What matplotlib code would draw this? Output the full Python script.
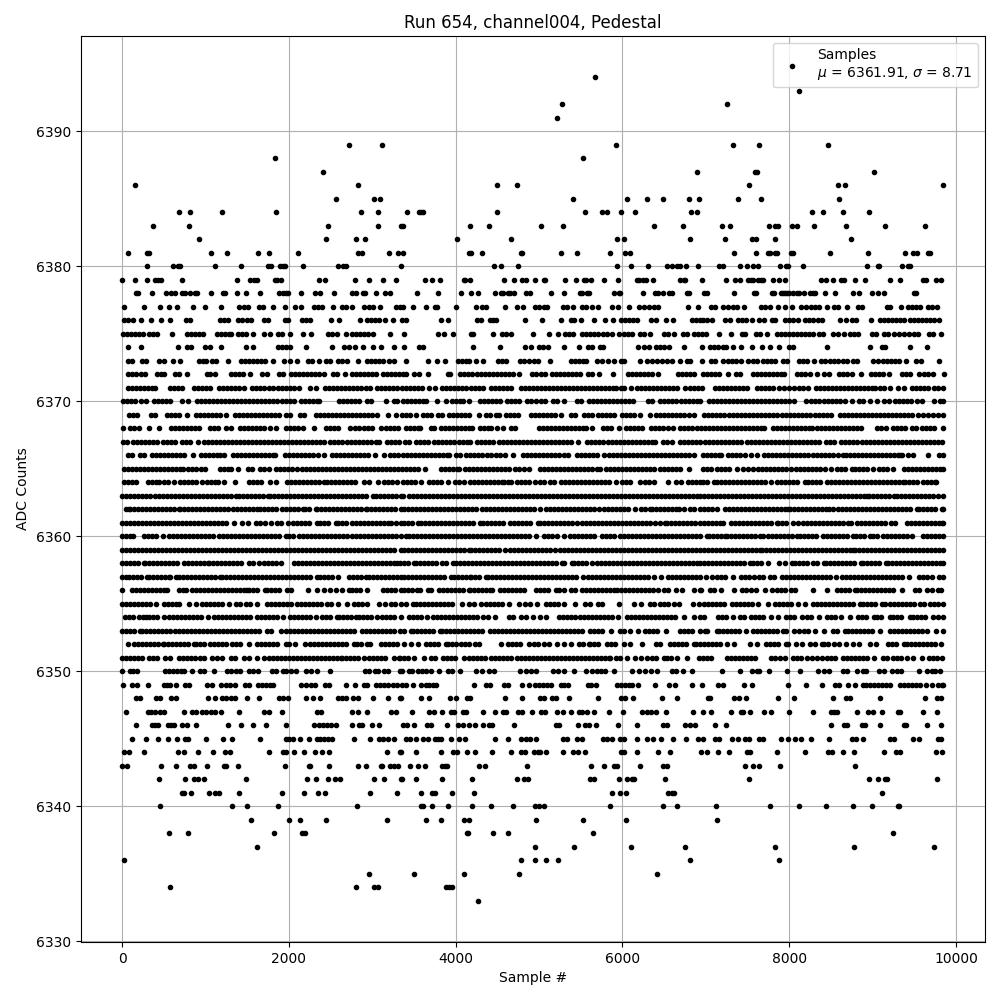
import matplotlib
matplotlib.use("Agg")
import matplotlib.pyplot as plt

# sample numbers, one list per ADC level
adc_6394 = [5668]
adc_6393 = [8120]
adc_6392 = [5272, 7256]
adc_6391 = [5212]
adc_6389 = [2720, 3116, 5920, 7328, 7640, 8468]
adc_6388 = [1832, 5524]
adc_6387 = [2408, 6892, 7592, 7616, 9020]
adc_6386 = [152, 2828, 4492, 4732, 7520, 8588, 8672, 9848]
adc_6385 = [2564, 3020, 3092, 5404, 6052, 6292, 6484, 6796, 6920, 7388, 7664, 8600]
adc_6384 = [680, 812, 1196, 1844, 2864, 3068, 3412, 3556, 3580, 3604, 4492, 5548, 5752, 5812, 5980, 6148, 6820, 6892,
            8276, 8408, 8648, 8960]
adc_6383 = [368, 800, 2468, 3068, 3340, 3364, 4168, 4396, 5020, 5284, 6376, 6724, 7196, 7292, 7760, 7832, 7868, 8036,
            8096, 8300, 8684, 9152, 9632]
adc_6382 = [920, 2444, 2804, 2912, 4012, 4660, 5932, 6016, 6808, 7232, 7556, 7604, 7832, 8744]
adc_6381 = [68, 296, 328, 1064, 1256, 1628, 1760, 2108, 2828, 2876, 3200, 3308, 3364, 4156, 4180, 4312, 4780, 4792,
            5260, 5456, 5848, 6028, 6088, 7340, 7604, 7748, 7772, 7832, 7856, 8024, 8048, 8492, 8948, 9392, 9488, 9536,
            9668, 9692]
adc_6380 = [296, 608, 668, 692, 1112, 1424, 1748, 1784, 1892, 1928, 1952, 2168, 2588, 2648, 2680, 3340, 4456, 4540,
            4744, 5932, 6104, 6304, 6532, 6592, 6652, 6688, 6760, 6904, 7160, 7208, 7412, 7496, 7568, 7628, 7892, 7964,
            7988, 8168, 8936, 9068, 9080, 9356, 9428, 9452]
adc_6379 = [0, 156, 296, 392, 428, 464, 716, 1376, 1532, 1580, 1620, 1832, 1856, 1904, 2360, 2432, 2792, 2960, 3128,
            3284, 3628, 3716, 3812, 4096, 4108, 4168, 4580, 4700, 4792, 4840, 4948, 5056, 5072, 5308, 5440, 5536, 5560,
            5620, 5776, 5944, 6176, 6200, 6248, 6284, 6364, 6688, 6736, 6748, 6956, 7244, 7352, 7412, 7508, 7544, 7568,
            7628, 7664, 7688, 7808, 7880, 7952, 8384, 8444, 8528, 8624, 8660, 8792, 8912, 9212, 9332, 9608, 9644, 9764,
            9824]
adc_6378 = [172, 192, 356, 524, 584, 632, 716, 752, 812, 872, 896, 1064, 1208, 1236, 1376, 1484, 1652, 1880, 1928, 1964,
            1988, 2144, 2312, 2372, 2540, 2756, 2804, 2888, 2912, 3044, 3152, 3212, 3532, 3784, 4060, 4180, 4264, 4468,
            4540, 4564, 4628, 4652, 4700, 4840, 4892, 5140, 5296, 5488, 5512, 5572, 5596, 5896, 5960, 5972, 6244, 6388,
            6424, 6484, 6556, 6592, 6772, 6796, 6980, 7016, 7340, 7580, 7604, 7796, 7820, 7904, 7928, 7952, 7976, 8000,
            8048, 8096, 8120, 8180, 8252, 8288, 8312, 8432, 8552, 8768, 8840, 8996, 9068, 9140, 9500, 9524]
adc_6377 = [24, 260, 452, 560, 656, 848, 992, 1184, 1400, 1460, 1508, 1640, 1688, 1808, 1952, 2072, 2144, 2300, 2348,
            2396, 2528, 2636, 2684, 2756, 2900, 2960, 3008, 3092, 3284, 3332, 3364, 3484, 3640, 3748, 3772, 4000, 4240,
            4312, 4360, 4588, 4732, 4804, 4948, 4996, 5056, 5092, 5284, 5332, 5404, 5512, 5560, 5632, 5704, 5872, 5944,
            6076, 6196, 6256, 6316, 6376, 6424, 6784, 6904, 7060, 7110, 7208, 7268, 7328, 7376, 7460, 7664, 7712, 7772,
            7868, 7952, 8036, 8144, 8204, 8264, 8312, 8360, 8456, 8540, 8588, 8696, 8828, 8876, 9176, 9212, 9344, 9428,
            9476, 9524, 9572, 9668, 9716, 9776]
adc_6376 = [20, 68, 128, 224, 344, 464, 572, 764, 812, 1172, 1220, 1268, 1388, 1436, 1496, 1544, 1700, 1748, 1952, 1988,
            2156, 2204, 2252, 2504, 2600, 2852, 2936, 2984, 3032, 3080, 3152, 3248, 3356, 3400, 3820, 3904, 4252, 4300,
            4408, 4444, 4480, 4828, 5032, 5260, 5380, 5416, 5500, 5656, 5788, 5884, 5980, 6028, 6076, 6124, 6172, 6340,
            6400, 6520, 6604, 6832, 6880, 6928, 6968, 7016, 7076, 7232, 7292, 7388, 7436, 7484, 7556, 7640, 7700, 7796,
            7832, 7952, 8000, 8048, 8108, 8192, 8240, 8288, 8348, 8396, 8612, 8684, 8756, 8804, 8984, 9092, 9140, 9188,
            9236, 9284, 9332, 9380, 9452, 9500, 9548, 9596, 9644, 9692, 9740, 9800]
adc_6375 = [8, 56, 104, 152, 200, 250, 320, 368, 416, 604, 776, 824, 872, 920, 968, 1136, 1184, 1232, 1280, 1304, 1388,
            1436, 1484, 1568, 1700, 1772, 1868, 1916, 2012, 2168, 2264, 2468, 2516, 2576, 2684, 2756, 2804, 2852, 2900,
            2948, 3008, 3212, 3376, 3784, 3856, 3964, 4180, 4204, 4444, 4552, 4600, 4660, 4924, 5116, 5224, 5308, 5356,
            5404, 5512, 5560, 5608, 5656, 5704, 5764, 5812, 5872, 5956, 6016, 6064, 6112, 6208, 6256, 6328, 6496, 6544,
            6616, 6724, 6772, 6856, 6904, 6956, 7004, 7160, 7304, 7436, 7472, 7604, 7652, 7736, 7856, 7904, 7952, 8000,
            8048, 8096, 8144, 8192, 8240, 8288, 8360, 8408, 8528, 8588, 8660, 8732, 8780, 8828, 8996, 9044, 9140, 9188,
            9260, 9320, 9380, 9440, 9500, 9548, 9680, 9728, 9824]
adc_6374 = [68, 224, 668, 776, 824, 992, 1052, 1184, 1484, 1568, 1868, 1916, 1964, 2012, 2204, 2516, 2660, 2720, 2792,
            2888, 3008, 3104, 3260, 3376, 3556, 3604, 4204, 4528, 4828, 4900, 4996, 5044, 5104, 5296, 5476, 5584, 5632,
            5728, 5764, 6184, 6256, 6316, 6400, 6448, 6496, 6556, 6736, 6956, 7052, 7100, 7148, 7208, 7244, 7328, 7424,
            7556, 7676, 7772, 7880, 8000, 8048, 8456, 8972, 9116, 9152, 9452, 9656]
adc_6373 = [68, 116, 236, 284, 440, 500, 608, 692, 920, 968, 1004, 1076, 1124, 1268, 1424, 1472, 1520, 1568, 1616, 1664,
            1712, 1808, 1940, 2012, 2096, 2228, 2276, 2360, 2444, 2492, 2588, 2636, 2696, 2828, 2936, 2984, 3032, 3080,
            3128, 3200, 3260, 3400, 3664, 3772, 3868, 4024, 4072, 4120, 4156, 4240, 4324, 4504, 4552, 4600, 4768, 4816,
            4876, 4936, 4984, 5128, 5380, 5428, 5476, 5524, 5560, 5692, 5752, 5824, 5896, 5980, 6016, 6208, 6292, 6352,
            6412, 6472, 6532, 6592, 6688, 6772, 6808, 6956, 7064, 7112, 7208, 7268, 7316, 7364, 7424, 7508, 7568, 7616,
            7688, 7736, 7784, 7832, 7928, 7976, 8120, 8168, 8216, 8300, 8384, 8432, 8492, 8540, 8588, 8648, 8696, 8768,
            8816, 9008, 9068, 9128, 9176, 9224, 9272, 9320, 9404, 9524, 9584, 9800]
adc_6372 = [68, 116, 164, 224, 272, 416, 464, 500, 632, 680, 776, 1016, 1052, 1112, 1304, 1352, 1400, 1448, 1532, 1676,
            1736, 1880, 1928, 2024, 2072, 2120, 2168, 2216, 2264, 2312, 2360, 2420, 2528, 2576, 2672, 2756, 2804, 2852,
            2900, 2948, 2996, 3044, 3128, 3176, 3224, 3272, 3320, 3364, 3400, 3496, 3556, 3664, 3904, 3928, 4048, 4096,
            4144, 4192, 4252, 4300, 4348, 4396, 4444, 4492, 4540, 4588, 4636, 4684, 4756, 4912, 4960, 5020, 5068, 5152,
            5200, 5248, 5296, 5344, 5392, 5440, 5488, 5584, 5632, 5716, 5884, 6064, 6112, 6160, 6208, 6256, 6304, 6352,
            6428, 6664, 6712, 6760, 6808, 6856, 6968, 7016, 7064, 7112, 7160, 7268, 7364, 7412, 7568, 7616, 7664, 7712,
            7760, 7808, 7856, 7904, 7940, 8096, 8144, 8192, 8252, 8336, 8420, 8480, 8600, 8648, 8696, 8756, 8864, 8984,
            9032, 9080, 9128, 9200, 9356, 9404, 9452, 9560, 9620, 9668, 9728, 9855]
adc_6371 = [68, 116, 164, 212, 260, 308, 356, 392, 572, 620, 668, 716, 860, 908, 956, 1004, 1052, 1160, 1208, 1256, 1304,
            1352, 1400, 1460, 1556, 1604, 1652, 1700, 1760, 1808, 1868, 1916, 1964, 2012, 2060, 2120, 2252, 2324, 2432,
            2480, 2528, 2576, 2624, 2672, 2720, 2768, 2816, 2864, 2924, 2972, 3056, 3104, 3152, 3200, 3248, 3296, 3352,
            3400, 3448, 3496, 3544, 3592, 3676, 3748, 3832, 3880, 3928, 3976, 4024, 4072, 4120, 4180, 4228, 4276, 4324,
            4420, 4468, 4516, 4564, 4612, 4660, 4780, 4828, 4876, 4924, 4972, 5020, 5068, 5116, 5164, 5212, 5260, 5308,
            5356, 5404, 5452, 5500, 5548, 5596, 5644, 5692, 5740, 5788, 5836, 5884, 5920, 5980, 6016, 6100, 6172, 6220,
            6268, 6316, 6364, 6412, 6460, 6508, 6556, 6604, 6652, 6748, 6808, 6856, 6904, 6956, 7112, 7160, 7208, 7256,
            7304, 7352, 7400, 7448, 7496, 7616, 7664, 7712, 7760, 7808, 7880, 7940, 8000, 8060, 8120, 8168, 8228, 8324,
            8372, 8420, 8468, 8516, 8564, 8612, 8660, 8708, 8756, 8804, 8852, 8900, 8948, 8996, 9032, 9092, 9140, 9212,
            9308, 9380, 9476, 9524, 9572, 9620, 9668, 9740, 9788, 9848]
adc_6370 = [8, 56, 104, 152, 224, 284, 380, 428, 476, 524, 572, 716, 788, 896, 944, 992, 1040, 1088, 1136, 1184, 1232,
            1280, 1328, 1376, 1424, 1472, 1520, 1568, 1616, 1664, 1712, 1760, 1808, 1856, 1916, 1964, 2012, 2060, 2144,
            2192, 2240, 2288, 2336, 2360, 2600, 2648, 2696, 2744, 2792, 2840, 2936, 2984, 3164, 3260, 3296, 3364, 3412,
            3460, 3508, 3556, 3604, 3640, 3772, 3880, 3952, 4000, 4048, 4084, 4156, 4288, 4336, 4384, 4432, 4480, 4528,
            4612, 4660, 4708, 4756, 4852, 4900, 4960, 5020, 5068, 5164, 5212, 5296, 5452, 5500, 5596, 5644, 5692, 5740,
            5788, 5836, 5884, 5932, 5980, 6028, 6076, 6124, 6304, 6352, 6448, 6496, 6544, 6592, 6640, 6700, 6748, 6796,
            6844, 6892, 6928, 7040, 7088, 7136, 7184, 7232, 7280, 7328, 7376, 7424, 7472, 7520, 7568, 7616, 7664, 7712,
            7760, 7808, 7856, 7904, 7952, 8000, 8060, 8204, 8264, 8312, 8360, 8420, 8468, 8516, 8564, 8612, 8672, 8756,
            8840, 8888, 8972, 9056, 9140, 9200, 9272, 9320, 9368, 9416, 9464, 9536, 9596, 9740, 9812, 9848]
adc_6369 = [80, 128, 176, 344, 392, 536, 584, 632, 680, 776, 884, 932, 980, 1028, 1076, 1124, 1172, 1252, 1352, 1400,
            1448, 1496, 1544, 1592, 1640, 1688, 1736, 1784, 1832, 1880, 1964, 2012, 2132, 2180, 2324, 2372, 2420, 2468,
            2516, 2564, 2612, 2660, 2708, 2756, 2804, 2852, 2900, 2948, 2996, 3056, 3188, 3284, 3352, 3400, 3448, 3520,
            3604, 3652, 3700, 3784, 3832, 3916, 3964, 4012, 4060, 4108, 4156, 4276, 4360, 4408, 4480, 4516, 4600, 4648,
            4696, 4744, 4900, 4948, 4996, 5044, 5092, 5140, 5188, 5260, 5380, 5428, 5536, 5584, 5632, 5704, 5752, 5800,
            5848, 5896, 5992, 6040, 6088, 6136, 6208, 6328, 6400, 6448, 6496, 6544, 6592, 6640, 6688, 6736, 6796, 6856,
            6980, 7028, 7076, 7124, 7172, 7220, 7280, 7328, 7376, 7424, 7472, 7520, 7568, 7616, 7664, 7712, 7760, 7808,
            7856, 7916, 7964, 8012, 8060, 8108, 8156, 8204, 8252, 8312, 8360, 8408, 8456, 8504, 8612, 8660, 8708, 8756,
            8804, 8852, 8900, 8948, 8996, 9044, 9092, 9140, 9188, 9236, 9284, 9332, 9380, 9428, 9476, 9548, 9608, 9668,
            9728, 9788, 9848]
adc_6368 = [8, 92, 140, 200, 320, 440, 584, 632, 680, 728, 776, 824, 872, 920, 1052, 1100, 1148, 1244, 1304, 1412, 1460,
            1508, 1556, 1604, 1652, 1700, 1772, 1844, 1964, 2012, 2060, 2108, 2168, 2300, 2444, 2492, 2540, 2588, 2732,
            2792, 2840, 2900, 2948, 2996, 3104, 3164, 3212, 3260, 3308, 3400, 3448, 3496, 3544, 3568, 3700, 3736, 3820,
            3868, 3916, 3964, 4012, 4060, 4108, 4156, 4192, 4288, 4336, 4384, 4420, 4492, 4564, 4660, 4708, 4996, 5044,
            5092, 5140, 5188, 5236, 5284, 5332, 5380, 5428, 5476, 5524, 5560, 5632, 5764, 5812, 5860, 5956, 6040, 6088,
            6136, 6184, 6232, 6340, 6388, 6436, 6484, 6544, 6604, 6688, 6736, 6784, 6832, 6892, 6944, 6992, 7040, 7088,
            7136, 7184, 7232, 7280, 7328, 7376, 7424, 7472, 7520, 7568, 7616, 7664, 7700, 7808, 7856, 7904, 7952, 8000,
            8048, 8096, 8144, 8192, 8240, 8276, 8336, 8384, 8432, 8480, 8528, 8576, 8624, 8672, 8720, 8768, 8816, 8864,
            9056, 9104, 9164, 9248, 9296, 9344, 9392, 9476, 9524, 9596, 9644, 9692, 9740, 9848]
adc_6367 = [8, 56, 128, 176, 224, 272, 320, 368, 416, 488, 536, 584, 632, 716, 764, 812, 908, 980, 1028, 1076, 1124,
            1172, 1220, 1268, 1316, 1364, 1412, 1460, 1508, 1556, 1604, 1652, 1700, 1748, 1796, 1844, 1892, 1940, 1988,
            2036, 2084, 2132, 2180, 2228, 2276, 2324, 2372, 2420, 2492, 2540, 2588, 2636, 2696, 2744, 2792, 2840, 2888,
            2936, 2984, 3044, 3080, 3176, 3224, 3272, 3320, 3388, 3436, 3520, 3568, 3616, 3664, 3736, 3784, 3832, 3880,
            3928, 3976, 4036, 4084, 4132, 4168, 4252, 4300, 4348, 4396, 4444, 4516, 4564, 4612, 4660, 4708, 4756, 4804,
            4852, 4900, 4948, 4996, 5044, 5092, 5140, 5188, 5236, 5284, 5332, 5380, 5464, 5572, 5620, 5668, 5716, 5764,
            5824, 5872, 5920, 5968, 6016, 6064, 6112, 6160, 6208, 6256, 6304, 6352, 6388, 6484, 6532, 6592, 6688, 6736,
            6784, 6832, 6880, 6928, 6992, 7040, 7088, 7136, 7184, 7232, 7280, 7328, 7376, 7424, 7496, 7544, 7592, 7640,
            7688, 7736, 7784, 7832, 7880, 7928, 7976, 8024, 8072, 8120, 8168, 8216, 8264, 8312, 8360, 8444, 8492, 8540,
            8624, 8672, 8720, 8768, 8816, 8876, 8924, 8972, 9020, 9068, 9116, 9164, 9212, 9260, 9308, 9356, 9404, 9452,
            9500, 9548, 9596, 9644, 9692, 9740, 9788, 9836]
adc_6366 = [68, 116, 212, 260, 356, 404, 452, 500, 548, 596, 644, 692, 740, 848, 944, 992, 1040, 1088, 1136, 1172, 1220,
            1328, 1376, 1424, 1472, 1520, 1568, 1616, 1664, 1712, 1760, 1808, 1832, 1952, 2000, 2048, 2096, 2144, 2192,
            2240, 2288, 2348, 2420, 2516, 2564, 2612, 2660, 2708, 2756, 2804, 2852, 2900, 2948, 3032, 3140, 3212, 3260,
            3308, 3364, 3412, 3460, 3508, 3556, 3604, 3652, 3700, 3748, 3796, 3844, 3892, 3916, 4000, 4048, 4120, 4168,
            4216, 4264, 4312, 4372, 4420, 4480, 4528, 4588, 4684, 4804, 4852, 4900, 4948, 4996, 5044, 5092, 5140, 5188,
            5236, 5296, 5344, 5452, 5500, 5548, 5596, 5644, 5692, 5776, 5836, 5884, 5932, 5980, 6028, 6076, 6124, 6172,
            6220, 6268, 6316, 6364, 6412, 6460, 6508, 6556, 6604, 6652, 6700, 6748, 6796, 6856, 6968, 7016, 7064, 7112,
            7160, 7184, 7268, 7316, 7364, 7412, 7472, 7544, 7616, 7700, 7748, 7796, 7844, 7892, 7940, 7988, 8036, 8084,
            8132, 8180, 8228, 8288, 8336, 8384, 8432, 8480, 8528, 8588, 8648, 8684, 8732, 8780, 8828, 8876, 8924, 8972,
            9020, 9068, 9116, 9164, 9212, 9260, 9308, 9328, 9356, 9428, 9488, 9664, 9800, 9848]
adc_6365 = [20, 68, 116, 164, 212, 260, 308, 356, 404, 452, 500, 548, 596, 644, 692, 728, 788, 836, 884, 944, 992, 1172,
            1220, 1268, 1304, 1388, 1508, 1556, 1652, 1700, 1760, 1844, 1892, 1940, 1988, 2036, 2096, 2156, 2204, 2252,
            2300, 2348, 2396, 2444, 2492, 2540, 2588, 2636, 2684, 2732, 2780, 2828, 2876, 2924, 2972, 3020, 3068, 3116,
            3164, 3212, 3260, 3308, 3352, 3400, 3448, 3496, 3544, 3628, 3820, 3868, 3916, 3964, 4012, 4036, 4108, 4156,
            4204, 4252, 4300, 4348, 4396, 4444, 4492, 4540, 4588, 4636, 4708, 4756, 4816, 4876, 5008, 5056, 5104, 5152,
            5200, 5248, 5296, 5344, 5392, 5440, 5488, 5536, 5584, 5632, 5692, 5736, 5800, 5848, 5896, 5944, 5992, 6040,
            6088, 6136, 6184, 6232, 6280, 6328, 6376, 6448, 6496, 6544, 6592, 6640, 6688, 6796, 6968, 7016, 7064, 7136,
            7184, 7232, 7280, 7376, 7448, 7508, 7568, 7628, 7676, 7724, 7772, 7820, 7868, 7916, 7964, 8016, 8084, 8132,
            8180, 8228, 8276, 8324, 8372, 8432, 8500, 8568, 8624, 8672, 8756, 8792, 8840, 8888, 8936, 9008, 9080, 9128,
            9176, 9248, 9380, 9428, 9476, 9524, 9572, 9620, 9668, 9716, 9764, 9812, 9848]
adc_6364 = [20, 68, 116, 172, 308, 356, 404, 440, 500, 548, 620, 692, 740, 788, 836, 884, 956, 1016, 1064, 1112, 1148,
            1220, 1352, 1520, 1568, 1616, 1664, 1772, 1844, 1980, 2028, 2076, 2124, 2172, 2220, 2268, 2316, 2364, 2420,
            2460, 2508, 2556, 2604, 2652, 2700, 2748, 2796, 2900, 2960, 3068, 3140, 3188, 3236, 3300, 3364, 3412, 3460,
            3508, 3580, 3676, 3724, 3772, 3820, 3904, 3988, 4036, 4096, 4168, 4216, 4264, 4312, 4360, 4408, 4456, 4504,
            4552, 4576, 4624, 4660, 4732, 4780, 4828, 4876, 4948, 5008, 5056, 5128, 5176, 5260, 5308, 5356, 5404, 5452,
            5500, 5548, 5596, 5644, 5692, 5740, 5788, 5836, 5920, 5992, 6040, 6088, 6208, 6268, 6316, 6376, 6544, 6640,
            6700, 6784, 6832, 6880, 6928, 6968, 7016, 7100, 7136, 7184, 7232, 7280, 7328, 7376, 7424, 7472, 7520, 7568,
            7616, 7664, 7712, 7784, 7856, 7904, 7952, 8000, 8048, 8096, 8192, 8228, 8276, 8324, 8372, 8456, 8504, 8552,
            8600, 8648, 8696, 8744, 8792, 8840, 8888, 8936, 8984, 9032, 9080, 9128, 9176, 9224, 9272, 9320, 9360, 9392,
            9440, 9488, 9536, 9608, 9648, 9696, 9744, 9764]
adc_6363 = [0, 48, 96, 144, 192, 240, 288, 336, 392, 440, 488, 536, 584, 632, 680, 728, 776, 824, 872, 920, 968, 1016,
            1064, 1112, 1160, 1208, 1256, 1304, 1368, 1404, 1452, 1500, 1548, 1596, 1644, 1692, 1752, 1776, 1824, 1872,
            1920, 1968, 2016, 2064, 2112, 2160, 2208, 2256, 2304, 2352, 2400, 2448, 2496, 2544, 2592, 2640, 2688, 2736,
            2780, 2824, 2872, 2920, 3012, 3040, 3088, 3136, 3184, 3232, 3280, 3340, 3364, 3436, 3484, 3532, 3580, 3628,
            3676, 3724, 3772, 3820, 3868, 3916, 3964, 4012, 4060, 4108, 4156, 4204, 4252, 4300, 4348, 4396, 4444, 4492,
            4540, 4588, 4636, 4684, 4732, 4780, 4828, 4876, 4924, 4972, 5020, 5068, 5116, 5164, 5212, 5260, 5308, 5356,
            5404, 5452, 5500, 5548, 5596, 5644, 5692, 5740, 5788, 5836, 5884, 5932, 5980, 6028, 6076, 6124, 6172, 6220,
            6268, 6316, 6364, 6412, 6460, 6508, 6556, 6604, 6652, 6700, 6748, 6796, 6844, 6892, 6928, 6976, 7024, 7072,
            7120, 7168, 7216, 7264, 7312, 7360, 7408, 7456, 7504, 7552, 7600, 7648, 7696, 7744, 7792, 7840, 7888, 7936,
            7984, 8032, 8080, 8128, 8176, 8224, 8272, 8320, 8368, 8416, 8464, 8512, 8560, 8608, 8656, 8704, 8752, 8800,
            8848, 8896, 8928, 8960, 9008, 9056, 9104, 9152, 9200, 9256, 9288, 9336, 9384, 9432, 9480, 9528, 9576, 9624,
            9672, 9720, 9788, 9848]
adc_6362 = [52, 80, 100, 148, 196, 244, 292, 340, 380, 428, 476, 524, 572, 620, 688, 700, 748, 796, 844, 892, 940, 988,
            1036, 1084, 1132, 1180, 1228, 1276, 1324, 1372, 1420, 1468, 1516, 1564, 1620, 1652, 1700, 1748, 1796, 1844,
            1916, 1964, 2012, 2060, 2108, 2164, 2188, 2236, 2320, 2332, 2380, 2428, 2476, 2524, 2572, 2620, 2668, 2716,
            2764, 2812, 2860, 2920, 2940, 2988, 3036, 3084, 3132, 3180, 3228, 3276, 3340, 3384, 3432, 3480, 3528, 3576,
            3624, 3672, 3720, 3768, 3816, 3864, 3912, 3960, 4000, 4048, 4096, 4144, 4192, 4248, 4316, 4364, 4412, 4460,
            4508, 4556, 4604, 4652, 4700, 4748, 4796, 4844, 4892, 4940, 5016, 5080, 5128, 5176, 5224, 5272, 5320, 5368,
            5416, 5464, 5512, 5560, 5608, 5656, 5716, 5776, 5824, 5872, 5920, 5968, 6016, 6064, 6148, 6224, 6272, 6328,
            6356, 6404, 6452, 6500, 6548, 6596, 6644, 6676, 6736, 6816, 6864, 6928, 6976, 7024, 7072, 7136, 7232, 7280,
            7328, 7376, 7424, 7472, 7520, 7568, 7616, 7664, 7712, 7760, 7808, 7856, 7904, 7952, 7988, 8008, 8056, 8104,
            8152, 8200, 8248, 8296, 8344, 8392, 8440, 8480, 8528, 8588, 8636, 8684, 8732, 8780, 8828, 8876, 8924, 8972,
            9020, 9068, 9116, 9164, 9212, 9260, 9308, 9356, 9404, 9452, 9528, 9560, 9608, 9656, 9704, 9752, 9828, 9848]
adc_6361 = [0, 48, 96, 144, 192, 240, 288, 336, 384, 432, 480, 528, 576, 624, 672, 720, 768, 816, 864, 912, 960, 1008,
            1056, 1104, 1152, 1200, 1252, 1340, 1440, 1508, 1600, 1656, 1716, 1788, 1860, 1908, 1988, 2052, 2100, 2148,
            2196, 2244, 2340, 2372, 2420, 2468, 2560, 2588, 2636, 2684, 2760, 2800, 2848, 2896, 2944, 2992, 3040, 3088,
            3136, 3184, 3220, 3280, 3340, 3384, 3432, 3480, 3544, 3584, 3632, 3680, 3728, 3776, 3824, 3872, 3920, 3968,
            4016, 4064, 4112, 4160, 4208, 4296, 4324, 4372, 4420, 4468, 4516, 4564, 4656, 4696, 4744, 4792, 4840, 4888,
            4984, 5016, 5064, 5112, 5160, 5208, 5256, 5304, 5352, 5400, 5456, 5516, 5564, 5612, 5660, 5708, 5756, 5804,
            5852, 5900, 5948, 5996, 6044, 6096, 6136, 6184, 6232, 6280, 6328, 6396, 6456, 6516, 6540, 6588, 6636, 6684,
            6732, 6780, 6828, 6876, 6928, 6976, 7024, 7072, 7120, 7168, 7200, 7296, 7344, 7392, 7440, 7488, 7536, 7584,
            7632, 7680, 7728, 7776, 7848, 7868, 7916, 7964, 8048, 8108, 8160, 8208, 8256, 8304, 8352, 8400, 8448, 8496,
            8544, 8592, 8640, 8708, 8744, 8808, 8856, 8904, 8952, 9000, 9048, 9096, 9144, 9216, 9268, 9408, 9456, 9504,
            9552, 9600, 9648, 9696, 9744, 9792, 9828, 9848]
adc_6360 = [0, 48, 96, 132, 260, 308, 360, 408, 488, 560, 608, 656, 704, 752, 800, 848, 896, 944, 992, 1040, 1088, 1160,
            1208, 1260, 1308, 1356, 1404, 1452, 1500, 1548, 1596, 1644, 1692, 1740, 1788, 1836, 1884, 1964, 2000, 2048,
            2124, 2168, 2220, 2268, 2316, 2364, 2412, 2460, 2508, 2556, 2604, 2652, 2700, 2760, 2800, 2848, 2896, 2944,
            2992, 3040, 3088, 3136, 3184, 3232, 3280, 3340, 3408, 3436, 3484, 3532, 3580, 3628, 3676, 3724, 3772, 3820,
            3868, 3916, 3964, 4012, 4060, 4108, 4156, 4204, 4252, 4300, 4348, 4396, 4444, 4492, 4540, 4588, 4636, 4684,
            4732, 4780, 4828, 4876, 4960, 5056, 5104, 5152, 5216, 5296, 5368, 5416, 5464, 5512, 5560, 5608, 5656, 5752,
            5800, 5848, 5896, 5976, 6016, 6064, 6112, 6160, 6208, 6256, 6304, 6352, 6400, 6448, 6496, 6544, 6592, 6640,
            6688, 6736, 6784, 6832, 6880, 6928, 7016, 7040, 7088, 7136, 7184, 7228, 7248, 7296, 7344, 7392, 7440, 7488,
            7536, 7584, 7648, 7688, 7748, 7796, 7844, 7892, 7940, 7988, 8036, 8088, 8128, 8176, 8224, 8272, 8320, 8408,
            8448, 8496, 8544, 8592, 8640, 8688, 8768, 8800, 8848, 8896, 8968, 9000, 9048, 9120, 9176, 9224, 9272, 9320,
            9368, 9416, 9468, 9608, 9656, 9704, 9752, 9800, 9848]
adc_6359 = [0, 48, 96, 144, 192, 240, 288, 336, 384, 432, 480, 528, 576, 624, 672, 720, 768, 816, 864, 912, 960, 1008,
            1056, 1104, 1152, 1200, 1248, 1296, 1344, 1392, 1440, 1488, 1536, 1584, 1632, 1680, 1728, 1776, 1824, 1872,
            1920, 1968, 2016, 2064, 2112, 2160, 2208, 2256, 2304, 2352, 2400, 2448, 2496, 2544, 2592, 2640, 2688, 2736,
            2784, 2832, 2880, 2928, 2976, 3024, 3072, 3120, 3168, 3216, 3264, 3340, 3384, 3432, 3480, 3528, 3576, 3624,
            3672, 3720, 3768, 3816, 3864, 3912, 3960, 4008, 4056, 4104, 4156, 4188, 4236, 4284, 4332, 4380, 4428, 4476,
            4524, 4596, 4648, 4696, 4744, 4792, 4840, 4888, 4936, 4984, 5032, 5080, 5128, 5196, 5248, 5296, 5344, 5392,
            5440, 5488, 5536, 5584, 5632, 5680, 5728, 5776, 5824, 5872, 5920, 5968, 6016, 6064, 6112, 6160, 6208, 6256,
            6304, 6352, 6400, 6448, 6496, 6544, 6592, 6640, 6688, 6736, 6784, 6832, 6880, 6928, 6976, 7024, 7072, 7120,
            7168, 7216, 7264, 7312, 7360, 7408, 7456, 7504, 7552, 7600, 7648, 7668, 7716, 7764, 7812, 7860, 7908, 7956,
            8004, 8052, 8100, 8148, 8196, 8244, 8292, 8340, 8388, 8436, 8484, 8532, 8580, 8628, 8676, 8724, 8768, 8788,
            8836, 8884, 8932, 8980, 9028, 9076, 9124, 9172, 9220, 9268, 9320, 9368, 9416, 9464, 9512, 9560, 9608, 9656,
            9704, 9752, 9800, 9848]
adc_6358 = [0, 48, 96, 144, 192, 260, 280, 328, 376, 424, 472, 520, 568, 616, 664, 740, 788, 836, 884, 932, 980, 1028,
            1040, 1088, 1136, 1184, 1232, 1280, 1328, 1376, 1428, 1520, 1568, 1640, 1700, 1748, 1796, 1844, 1900, 2060,
            2108, 2156, 2204, 2252, 2300, 2348, 2396, 2444, 2492, 2540, 2588, 2636, 2684, 2732, 2780, 2828, 2876, 2924,
            2972, 3020, 3068, 3116, 3164, 3212, 3260, 3300, 3336, 3384, 3432, 3504, 3524, 3572, 3620, 3668, 3716, 3764,
            3840, 3888, 3964, 4008, 4056, 4104, 4152, 4200, 4248, 4296, 4344, 4392, 4440, 4488, 4536, 4584, 4632, 4680,
            4728, 4776, 4824, 4872, 4920, 4968, 5016, 5064, 5112, 5160, 5208, 5276, 5304, 5396, 5416, 5464, 5512, 5560,
            5636, 5696, 5744, 5792, 5840, 5888, 5936, 5984, 6032, 6080, 6128, 6176, 6224, 6272, 6320, 6368, 6416, 6464,
            6512, 6560, 6608, 6656, 6704, 6752, 6800, 6848, 6896, 6936, 6976, 7024, 7072, 7120, 7168, 7216, 7264, 7312,
            7360, 7408, 7456, 7528, 7560, 7608, 7656, 7748, 7880, 7948, 8028, 8068, 8116, 8164, 8212, 8288, 8336, 8416,
            8440, 8488, 8536, 8584, 8632, 8680, 8728, 8776, 8860, 8888, 8936, 8984, 9032, 9080, 9160, 9188, 9236, 9284,
            9332, 9380, 9428, 9476, 9524, 9572, 9620, 9668, 9716, 9764, 9808, 9848]
adc_6357 = [0, 52, 80, 128, 176, 224, 300, 320, 368, 416, 464, 512, 560, 580, 652, 680, 728, 776, 824, 872, 920, 968,
            1016, 1064, 1112, 1180, 1200, 1248, 1296, 1344, 1392, 1440, 1488, 1536, 1584, 1632, 1680, 1728, 1776, 1824,
            1872, 1920, 1968, 2016, 2064, 2112, 2160, 2208, 2256, 2340, 2372, 2420, 2468, 2516, 2588, 2720, 2768, 2816,
            2864, 2920, 2960, 3008, 3056, 3104, 3152, 3200, 3248, 3296, 3340, 3384, 3432, 3480, 3528, 3576, 3624, 3672,
            3720, 3768, 3816, 3864, 3944, 3976, 4024, 4072, 4120, 4176, 4188, 4236, 4284, 4368, 4388, 4436, 4484, 4532,
            4580, 4628, 4676, 4724, 4772, 4820, 4868, 4916, 4964, 5012, 5060, 5108, 5156, 5204, 5252, 5300, 5348, 5396,
            5444, 5528, 5584, 5632, 5680, 5728, 5776, 5824, 5872, 5920, 5968, 6016, 6064, 6112, 6160, 6208, 6256, 6304,
            6376, 6468, 6544, 6592, 6640, 6688, 6736, 6784, 6832, 6880, 6928, 7004, 7080, 7128, 7176, 7224, 7320, 7416,
            7464, 7512, 7576, 7640, 7688, 7768, 7820, 7908, 7956, 8004, 8052, 8100, 8148, 8196, 8244, 8292, 8340, 8388,
            8436, 8488, 8560, 8636, 8684, 8732, 8780, 8828, 8876, 8924, 8972, 9020, 9068, 9116, 9164, 9212, 9260, 9308,
            9356, 9440, 9560, 9608, 9656, 9708, 9800, 9848]
adc_6356 = [0, 120, 168, 216, 264, 312, 360, 408, 456, 504, 540, 680, 728, 772, 840, 888, 936, 984, 1032, 1080, 1128,
            1176, 1224, 1272, 1320, 1368, 1416, 1464, 1500, 1520, 1568, 1616, 1708, 1740, 1788, 1836, 1884, 1980, 2020,
            2228, 2340, 2420, 2492, 2564, 2640, 2720, 2760, 2808, 2856, 2940, 3132, 3180, 3228, 3276, 3340, 3384, 3432,
            3480, 3536, 3576, 3664, 3704, 3796, 3844, 3892, 3940, 3988, 4036, 4084, 4156, 4176, 4224, 4272, 4320, 4368,
            4408, 4436, 4528, 4576, 4624, 4672, 4720, 4768, 4824, 4968, 5016, 5064, 5112, 5200, 5240, 5304, 5384, 5432,
            5516, 5560, 5608, 5656, 5704, 5752, 5800, 5848, 5896, 5936, 5984, 6032, 6080, 6128, 6176, 6224, 6272, 6320,
            6368, 6424, 6496, 6548, 6648, 6720, 6856, 6936, 6948, 7048, 7096, 7176, 7340, 7428, 7476, 7536, 7604, 7712,
            7796, 7856, 7904, 7952, 8016, 8068, 8280, 8456, 8568, 8616, 8664, 8712, 8788, 8816, 8864, 8912, 8960, 9008,
            9056, 9104, 9152, 9200, 9240, 9356, 9508, 9556, 9648, 9708, 9788, 9824]
adc_6355 = [0, 48, 96, 144, 192, 240, 288, 336, 412, 500, 548, 596, 652, 680, 800, 892, 960, 1008, 1056, 1104, 1152,
            1200, 1280, 1360, 1408, 1480, 1532, 1612, 1740, 1788, 1836, 1884, 1932, 1980, 2028, 2100, 2148, 2196, 2244,
            2292, 2340, 2388, 2460, 2500, 2588, 2692, 2780, 2828, 2876, 2940, 3080, 3148, 3220, 3268, 3340, 3400, 3484,
            3528, 3576, 3624, 3672, 3720, 3768, 3816, 3864, 3912, 3960, 4072, 4156, 4224, 4308, 4368, 4416, 4464, 4512,
            4560, 4636, 4756, 4836, 4896, 4972, 5088, 5136, 5184, 5232, 5304, 5428, 5548, 5616, 5704, 5756, 5956, 6136,
            6224, 6328, 6376, 6456, 6496, 6544, 6616, 6676, 6848, 6924, 6976, 7024, 7072, 7120, 7168, 7216, 7308, 7360,
            7408, 7456, 7508, 7556, 7628, 7748, 7828, 7876, 7924, 7972, 8020, 8108, 8192, 8288, 8336, 8384, 8432, 8480,
            8528, 8576, 8624, 8672, 8720, 8768, 8848, 8888, 8936, 8984, 9032, 9108, 9152, 9208, 9256, 9304, 9352, 9400,
            9448, 9496, 9568, 9620, 9688, 9736, 9784, 9848]
adc_6354 = [40, 88, 136, 200, 248, 292, 320, 368, 416, 500, 560, 608, 656, 704, 752, 800, 848, 896, 944, 1028, 1100,
            1148, 1196, 1244, 1292, 1340, 1388, 1436, 1484, 1532, 1620, 1660, 1708, 1756, 1804, 1852, 1932, 2012, 2060,
            2108, 2156, 2204, 2252, 2320, 2400, 2448, 2496, 2572, 2600, 2648, 2696, 2744, 2800, 2840, 2888, 2936, 2984,
            3060, 3120, 3168, 3216, 3264, 3340, 3436, 3484, 3532, 3580, 3656, 3724, 3772, 3820, 3868, 3916, 3964, 4012,
            4060, 4108, 4156, 4204, 4252, 4328, 4384, 4476, 4636, 4684, 4784, 4840, 4932, 5016, 5088, 5240, 5288, 5336,
            5384, 5432, 5488, 5536, 5588, 5636, 5684, 5732, 5780, 5828, 5876, 5944, 6056, 6104, 6152, 6200, 6248, 6296,
            6344, 6392, 6440, 6488, 6536, 6584, 6632, 6736, 6856, 6928, 6984, 7148, 7196, 7244, 7328, 7408, 7456, 7536,
            7588, 7636, 7684, 7776, 7868, 7960, 8008, 8056, 8148, 8208, 8256, 8360, 8448, 8496, 8544, 8616, 8728, 8828,
            8876, 8924, 9016, 9048, 9096, 9208, 9240, 9288, 9336, 9448, 9480, 9528, 9576, 9624, 9720, 9788, 9848]
adc_6353 = [0, 52, 100, 148, 220, 240, 288, 336, 384, 432, 480, 528, 576, 640, 680, 728, 776, 824, 872, 920, 968, 1016,
            1064, 1112, 1160, 1208, 1256, 1304, 1352, 1400, 1448, 1496, 1544, 1592, 1640, 1740, 1788, 1900, 1960, 2008,
            2056, 2104, 2152, 2200, 2248, 2296, 2344, 2392, 2440, 2488, 2536, 2584, 2632, 2680, 2728, 2776, 2880, 2920,
            2968, 3016, 3064, 3112, 3160, 3208, 3256, 3336, 3384, 3464, 3488, 3536, 3584, 3632, 3680, 3728, 3808,
            3836, 3884, 3932, 3980, 4028, 4076, 4124, 4172, 4220, 4268, 4316, 4416, 4464, 4512, 4560, 4608, 4656, 4704,
            4752, 4800, 4848, 4896, 4944, 4992, 5040, 5088, 5136, 5184, 5232, 5280, 5328, 5376, 5424, 5472, 5520, 5608,
            5656, 5704, 5752, 5864, 5968, 6024, 6088, 6192, 6276, 6324, 6372, 6420, 6528, 6696, 6744, 6792, 6840, 6936,
            6988, 7016, 7128, 7160, 7208, 7256, 7304, 7352, 7400, 7480, 7568, 7616, 7664, 7712, 7760, 7808, 7856, 7920,
            7960, 8056, 8120, 8176, 8228, 8308, 8416, 8520, 8568, 8664, 8708, 8756, 8804, 8852, 8900, 8948, 8996, 9088,
            9208, 9256, 9304, 9352, 9400, 9448, 9496, 9544, 9592, 9648, 9760, 9848]
adc_6352 = [68, 140, 188, 236, 284, 332, 380, 428, 492, 508, 556, 604, 652, 700, 748, 796, 860, 884, 932, 980, 1060,
            1100, 1148, 1196, 1244, 1320, 1360, 1408, 1524, 1620, 1668, 1716, 1764, 1812, 1860, 1964, 2000, 2072, 2192,
            2252, 2300, 2348, 2396, 2444, 2492, 2540, 2588, 2636, 2684, 2780, 2820, 2868, 2940, 2972, 3100, 3148, 3196,
            3244, 3300, 3384, 3464, 3544, 3640, 3696, 3744, 3792, 3880, 3904, 3952, 4000, 4064, 4116, 4164, 4236, 4284,
            4544, 4624, 4672, 4720, 4768, 4876, 4944, 4992, 5064, 5116, 5216, 5304, 5384, 5476, 5524, 5596, 5616, 5664,
            5712, 5816, 5864, 5912, 6016, 6088, 6240, 6408, 6456, 6568, 6616, 6664, 6712, 6760, 6856, 6880, 6928, 6976,
            7024, 7072, 7120, 7168, 7256, 7340, 7528, 7616, 7720, 7768, 7816, 7864, 7960, 7988, 8080, 8148, 8248, 8308,
            8388, 8420, 8468, 8536, 8600, 8680, 8768, 8840, 8968, 9040, 9188, 9236, 9284, 9376, 9416, 9464, 9512, 9560,
            9608, 9656, 9704, 9752, 9816]
adc_6351 = [0, 48, 96, 144, 192, 240, 320, 372, 420, 520, 572, 680, 728, 776, 824, 880, 932, 980, 1080, 1140, 1200, 1308,
            1356, 1460, 1520, 1620, 1700, 1760, 1808, 1856, 1904, 1952, 2000, 2048, 2096, 2144, 2192, 2240, 2288, 2336,
            2384, 2432, 2480, 2528, 2576, 2620, 2640, 2688, 2736, 2784, 2832, 2900, 2960, 3008, 3056, 3104, 3152, 3260,
            3320, 3336, 3384, 3432, 3496, 3616, 3704, 3756, 3848, 3896, 3944, 3992, 4096, 4156, 4204, 4252, 4300, 4348,
            4424, 4468, 4516, 4564, 4612, 4660, 4736, 4784, 4832, 4880, 4928, 4976, 5024, 5072, 5120, 5168, 5216, 5264,
            5312, 5360, 5408, 5456, 5504, 5552, 5600, 5648, 5696, 5744, 5792, 5836, 5856, 5920, 5976, 6056, 6148, 6224,
            6296, 6356, 6404, 6496, 6536, 6584, 6656, 6776, 6916, 6968, 7016, 7068, 7248, 7296, 7344, 7392, 7440, 7488,
            7536, 7588, 7776, 7824, 7888, 7952, 8040, 8088, 8136, 8216, 8268, 8328, 8388, 8448, 8496, 8544, 8648, 8696,
            8744, 8792, 8840, 8888, 8936, 9016, 9120, 9168, 9248, 9288, 9336, 9408, 9488, 9588, 9680, 9728, 9776, 9836]
adc_6350 = [0, 92, 128, 176, 512, 560, 608, 656, 704, 740, 836, 932, 980, 1100, 1256, 1304, 1364, 1412, 1520, 1568, 1628,
            1796, 1844, 1928, 1964, 2024, 2084, 2204, 2264, 2336, 2492, 2912, 2960, 3032, 3068, 3140, 3188, 3332, 3352,
            3436, 3472, 3544, 3592, 3640, 3700, 3796, 3904, 3952, 4048, 4240, 4312, 4396, 4456, 4768, 4840, 4900, 4960,
            5164, 5224, 5296, 5416, 5560, 5632, 5692, 5740, 5788, 5896, 6112, 6196, 6268, 6340, 6412, 6592, 6640, 6724,
            6832, 7196, 7412, 7556, 7616, 7640, 7760, 7976, 8132, 8348, 8420, 8480, 8648, 8696, 8816, 8888, 8924, 9080,
            9140, 9236, 9296, 9344, 9560, 9656, 9716, 9752, 9812]
adc_6349 = [8, 116, 176, 312, 500, 536, 572, 644, 752, 800, 1016, 1076, 1184, 1244, 1292, 1352, 1472, 1520, 1628, 1676,
            1724, 1772, 1808, 2144, 2204, 2264, 2312, 2432, 2480, 2684, 2792, 2900, 2936, 3044, 3092, 3140, 3188, 3248,
            3300, 3352, 3400, 3484, 3580, 3640, 3676, 3724, 3760, 4216, 4360, 4408, 4576, 4624, 4792, 4876, 4948, 4996,
            5044, 5092, 5140, 5260, 5296, 5344, 5584, 5620, 5680, 5932, 5980, 6028, 6076, 6112, 6184, 6388, 6556, 6628,
            6832, 6956, 7148, 7208, 7460, 7556, 7988, 8204, 8396, 8552, 8600, 8708, 8792, 8888, 8924, 8972, 9020, 9068,
            9116, 9164, 9212, 9332, 9380, 9428, 9476, 9524, 9572, 9644, 9716, 9788, 9836, 9848]
adc_6348 = [164, 212, 404, 452, 584, 644, 1028, 1112, 1196, 1244, 1304, 1352, 1496, 1640, 1880, 1928, 1988, 2204, 2288,
            2372, 2588, 2636, 2684, 2768, 2828, 3008, 3188, 3332, 3344, 3580, 3676, 3928, 4000, 4132, 4168, 4588, 4792,
            5008, 5056, 5152, 5200, 5356, 5704, 5980, 6028, 6124, 6472, 6652, 7028, 7052, 7340, 7400, 7484, 7868, 8060,
            8528, 8684, 8732, 9092, 9632, 9776, 9824]
adc_6347 = [44, 308, 344, 392, 452, 500, 740, 836, 884, 956, 1004, 1064, 1112, 1184, 1400, 1700, 1760, 1916, 2336, 2384,
            2756, 2828, 2936, 3224, 3284, 3472, 3676, 3736, 3832, 3940, 3976, 4084, 4120, 4324, 4468, 4564, 4600, 4744,
            4792, 4912, 5020, 5068, 5212, 5284, 5380, 5476, 5512, 5572, 5656, 5836, 6004, 6232, 6292, 6340, 6400, 6520,
            6844, 6968, 7064, 7304, 7424, 7448, 7532, 7700, 7784, 8000, 8288, 8504, 8540, 8576, 8816, 8948, 9008, 9116,
            9308, 9332, 9608, 9776]
adc_6346 = [164, 356, 392, 428, 548, 584, 620, 716, 776, 884, 1268, 1424, 1572, 1724, 1964, 2300, 2360, 2408, 2456,
            2504, 2564, 2756, 2840, 2876, 2996, 3080, 3364, 3412, 3496, 3652, 3700, 3892, 4024, 4084, 4156, 4228, 4324,
            4396, 4432, 4696, 5200, 5236, 5464, 5548, 5596, 5680, 5944, 6172, 6484, 6532, 6748, 6808, 6868, 7112, 7244,
            8504, 8660, 8696, 8876, 8912, 9092, 9380, 9404, 9656, 9824]
adc_6345 = [116, 284, 428, 548, 656, 752, 788, 1004, 1208, 1316, 1652, 1964, 2000, 2048, 2132, 2240, 2336, 2372, 2420,
            2468, 2516, 2780, 2972, 3080, 3128, 3188, 3260, 3400, 3448, 3520, 3604, 3668, 3748, 3784, 3820, 3940, 4036,
            4108, 4468, 4624, 4780, 4840, 4888, 4960, 5292, 5332, 5452, 5512, 5764, 5812, 5872, 5968, 6016, 6172, 6292,
            6364, 6460, 6604, 6760, 6904, 6968, 7112, 7160, 7316, 7388, 7472, 7520, 7640, 7688, 7904, 7988, 8072, 8144,
            8264, 8476, 8756, 8804, 8888, 9212, 9260, 9488, 9560, 9788, 9824]
adc_6344 = [20, 80, 260, 668, 740, 908, 1088, 1232, 1292, 1760, 1928, 1964, 2060, 2180, 2312, 2396, 2480, 3176, 3332,
            3344, 3520, 3820, 3964, 4012, 4132, 4228, 4432, 4660, 4780, 4828, 4936, 4984, 5008, 5080, 5284, 5404, 5464,
            5548, 5980, 6016, 6172, 6424, 6568, 6948, 7016, 7148, 7280, 7496, 7532, 7856, 8192, 8468, 8516, 8648, 8780,
            9140, 9284, 9332, 9764, 9836]
adc_6343 = [4, 60, 464, 644, 812, 860, 1016, 1220, 1244, 1388, 1952, 2240, 2252, 2480, 2828, 2924, 3104, 3116, 3212,
            3260, 3308, 3448, 3544, 3628, 3832, 3868, 3892, 4276, 4348, 4852, 5620, 5776, 5896, 5932, 6208, 6484, 6532,
            7472, 7568, 7640, 7892, 8792]
adc_6342 = [440, 752, 860, 908, 980, 1484, 2216, 2324, 2468, 2552, 2612, 3020, 3140, 3340, 3356, 3520, 3832, 4192, 4732,
            4816, 4864, 5608, 5656, 5956, 6052, 6112, 6136, 6508, 7520, 8960, 9068, 9152, 9176, 9776]
adc_6341 = [716, 740, 824, 1040, 1112, 1160, 1400, 1916, 2180, 2348, 2432, 2972, 3296, 3580, 3712, 3748, 3952, 4216,
            5872, 5968, 6040, 6544, 6596, 6620, 9116]
adc_6340 = [452, 1316, 1496, 1868, 2816, 3580, 3604, 3712, 3904, 4192, 4420, 4684, 4948, 4996, 5056, 5848, 6484, 6652,
            7124, 7772, 8120, 8444, 8768, 8996, 9308, 9320]
adc_6339 = [1544, 2000, 2132, 2444, 3176, 3644, 3820, 4096, 4156, 4960, 5524, 6040, 7136]
adc_6338 = [560, 788, 1820, 2156, 2192, 4140, 4150, 4444, 4624, 5644, 9248]
adc_6337 = [1616, 4948, 5416, 6100, 6748, 7832, 8780, 9740]
adc_6336 = [20, 4780, 4948, 5080, 5224, 6808, 7880]
adc_6335 = [2960, 3496, 4096, 4756, 6412]
adc_6334 = [572, 2804, 3020, 3068, 3880, 3916, 3952]
adc_6333 = [4264]

levels = {
    6394: adc_6394, 6393: adc_6393, 6392: adc_6392, 6391: adc_6391, 6389: adc_6389, 6388: adc_6388,
    6387: adc_6387, 6386: adc_6386, 6385: adc_6385, 6384: adc_6384, 6383: adc_6383, 6382: adc_6382,
    6381: adc_6381, 6380: adc_6380, 6379: adc_6379, 6378: adc_6378, 6377: adc_6377, 6376: adc_6376,
    6375: adc_6375, 6374: adc_6374, 6373: adc_6373, 6372: adc_6372, 6371: adc_6371, 6370: adc_6370,
    6369: adc_6369, 6368: adc_6368, 6367: adc_6367, 6366: adc_6366, 6365: adc_6365, 6364: adc_6364,
    6363: adc_6363, 6362: adc_6362, 6361: adc_6361, 6360: adc_6360, 6359: adc_6359, 6358: adc_6358,
    6357: adc_6357, 6356: adc_6356, 6355: adc_6355, 6354: adc_6354, 6353: adc_6353, 6352: adc_6352,
    6351: adc_6351, 6350: adc_6350, 6349: adc_6349, 6348: adc_6348, 6347: adc_6347, 6346: adc_6346,
    6345: adc_6345, 6344: adc_6344, 6343: adc_6343, 6342: adc_6342, 6341: adc_6341, 6340: adc_6340,
    6339: adc_6339, 6338: adc_6338, 6337: adc_6337, 6336: adc_6336, 6335: adc_6335, 6334: adc_6334,
    6333: adc_6333,
}

mu = 6361.91
sigma = 8.71

samples = []
counts = []
for level, row in levels.items():
    samples.extend(row)
    counts.extend([level] * len(row))

plt.figure(figsize=(10, 10))
plt.plot(samples, counts, "k.", label=f"Samples\n$\\mu$ = {mu:.2f}, $\\sigma$ = {sigma:.2f}")
plt.title("Run 654, channel004, Pedestal")
plt.xlabel("Sample #")
plt.ylabel("ADC Counts")
plt.grid(True)
plt.legend(loc="upper right")
# same margins as the reference, tight_layout came out 2px lower at the top
plt.subplots_adjust(left=0.081, right=0.985, bottom=0.058, top=0.964)
plt.savefig("out.png", dpi=100)
